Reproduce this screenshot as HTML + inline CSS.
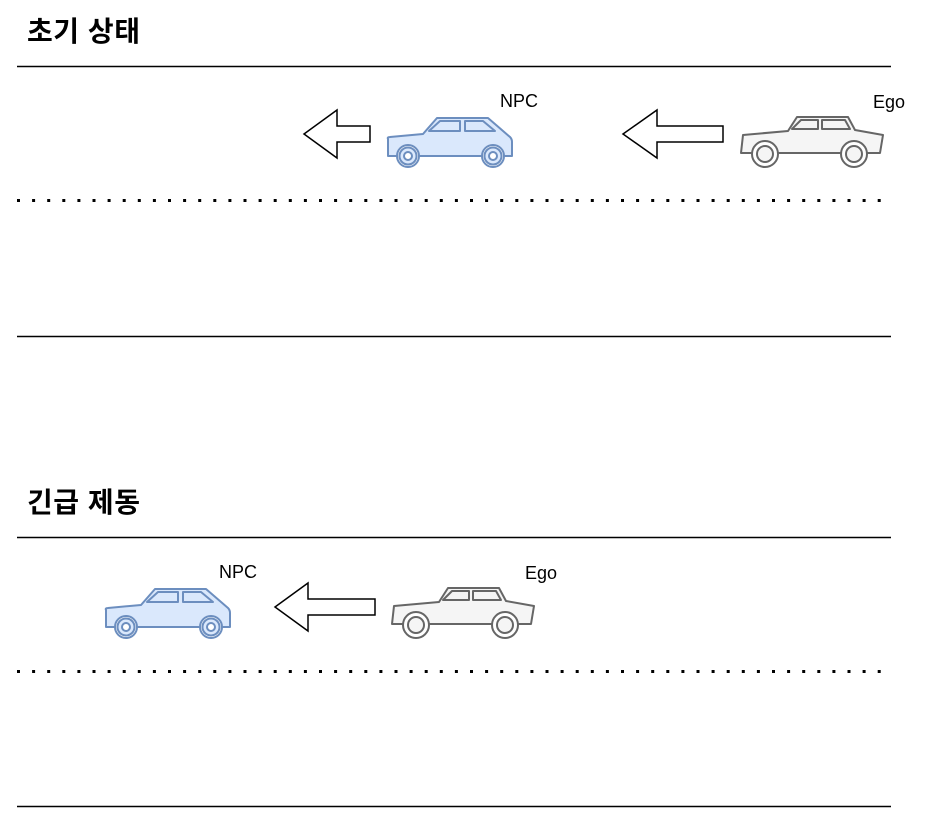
<!DOCTYPE html>
<html><head><meta charset="utf-8"><style>body{margin:0;background:#fff}svg{display:block}</style></head>
<body>
<svg width="943" height="839" viewBox="0 0 943 839" xmlns="http://www.w3.org/2000/svg">
<defs>
<g id="npc" stroke="#6c8ebf" stroke-width="2" fill="#dae8fc" stroke-linejoin="round">
<path d="M388 139 Q387 137 390 137 L423 134 L437 118 L488 118 L510 137 Q512 139 512 142 L512 156 L388 156 Z"/>
<path d="M429 131 L440 121 L460 121 L460 131 Z" fill="#dae8fc"/>
<path d="M465 121 L483 121 L495 131 L465 131 Z"/>
<circle cx="408" cy="156" r="11" fill="#fff"/><circle cx="408" cy="156" r="8.5"/><circle cx="408" cy="156" r="4" fill="#fff"/>
<circle cx="493" cy="156" r="11" fill="#fff"/><circle cx="493" cy="156" r="8.5"/><circle cx="493" cy="156" r="4" fill="#fff"/>
</g>
<g id="ego" stroke="#666" stroke-width="2" fill="#f5f5f5" stroke-linejoin="round">
<path d="M743 135 L788 131 L797 117 L848 117 L855 130 L883 135 L880 153 L741 153 Z"/>
<path d="M792 129 L801 120 L818 120 L818 129 Z"/>
<path d="M822 120 L845 120 L850 129 L822 129 Z"/>
<circle cx="765" cy="154" r="13" fill="#fff"/><circle cx="765" cy="154" r="8"/>
<circle cx="854" cy="154" r="13" fill="#fff"/><circle cx="854" cy="154" r="8"/>
</g>
</defs>
<g font-family="Liberation Sans, 'Noto Sans CJK KR', sans-serif">
<text x="27" y="41" font-size="28" font-weight="bold" textLength="113">초기 상태</text>
<text x="27" y="512" font-size="28" font-weight="bold" textLength="113">긴급 제동</text>
<text x="500" y="107" font-size="18">NPC</text>
<text x="873" y="108" font-size="18">Ego</text>
<text x="219" y="578" font-size="18">NPC</text>
<text x="525" y="579" font-size="18">Ego</text>
</g>
<g stroke="#000" stroke-width="1.5">
<line x1="17" y1="66.5" x2="891" y2="66.5"/>
<line x1="17" y1="336.5" x2="891" y2="336.5"/>
<line x1="17" y1="537.5" x2="891" y2="537.5"/>
<line x1="17" y1="806.5" x2="891" y2="806.5"/>
</g>
<g stroke="#000" stroke-width="3" stroke-dasharray="3 12.1">
<line x1="17" y1="200.5" x2="885" y2="200.5"/>
<line x1="17" y1="671.5" x2="885" y2="671.5"/>
</g>
<g fill="#fff" stroke="#000" stroke-width="1.5">
<path d="M304 134 L337 110 L337 126 L370 126 L370 142 L337 142 L337 158 Z"/>
<path d="M623 134 L657 110 L657 126 L723 126 L723 142 L657 142 L657 158 Z"/>
<path d="M275 607 L308 583 L308 599 L375 599 L375 615 L308 615 L308 631 Z"/>
</g>
<use href="#npc"/>
<use href="#ego"/>
<use href="#npc" transform="translate(-282 471)"/>
<use href="#ego" transform="translate(-349 471)"/>
</svg>
</body></html>
